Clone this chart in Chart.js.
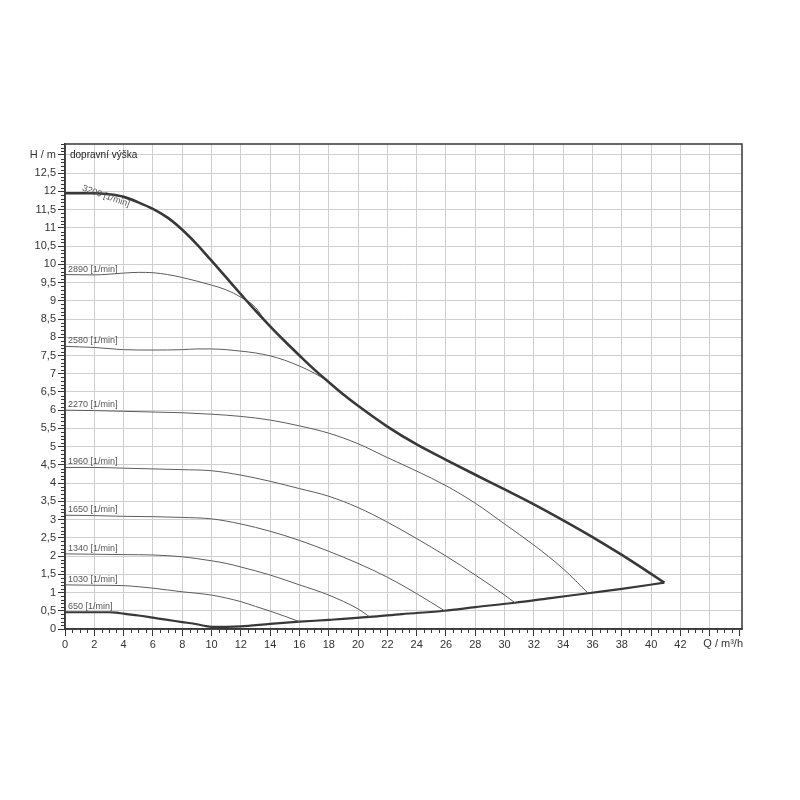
<!DOCTYPE html>
<html>
<head>
<meta charset="utf-8">
<title>Q-H křivky</title>
<script src="https://cdn.jsdelivr.net/npm/chart.js@4/dist/chart.umd.min.js"></script>
<style>
  html, body { margin: 0; padding: 0; background: #fff; }
  #wrap { width: 800px; height: 800px; }
</style>
</head>
<body>
<div id="wrap"><canvas id="qh" width="800" height="800"></canvas></div>
<script>
// Křivky Q-H čerpadla pro jednotlivé otáčky.
const q3200 = [0, 2, 3, 4, 5, 6, 7, 8, 9, 10, 11, 12, 13, 14, 15, 16, 17, 18, 19, 20, 22, 24, 26, 28, 30, 32, 34, 36, 38, 40, 40.9];
const h3200 = [11.95, 11.95, 11.92, 11.85, 11.7, 11.52, 11.28, 10.95, 10.55, 10.1, 9.64, 9.18, 8.73, 8.3, 7.89, 7.5, 7.12, 6.77, 6.43, 6.12, 5.55, 5.06, 4.64, 4.23, 3.83, 3.42, 2.98, 2.52, 2.03, 1.51, 1.27];

const q2890 = [0, 2, 3, 4, 5, 6, 7, 8, 9, 10, 11, 12, 13, 13.6];
const h2890 = [9.72, 9.71, 9.73, 9.76, 9.78, 9.77, 9.72, 9.64, 9.54, 9.43, 9.3, 9.1, 8.82, 8.48];

const q2580 = [0, 2, 3, 4, 6, 8, 9, 10, 11, 12, 13, 14, 15, 16, 17, 18];
const h2580 = [7.75, 7.72, 7.69, 7.66, 7.65, 7.66, 7.68, 7.68, 7.66, 7.62, 7.57, 7.49, 7.37, 7.21, 7.02, 6.78];

const q2270 = [0, 2, 4, 6, 8, 10, 12, 14, 16, 18, 20, 22, 24, 26, 28, 30, 32, 34, 35.7];
const h2270 = [6.0, 5.99, 5.97, 5.95, 5.93, 5.89, 5.83, 5.73, 5.57, 5.37, 5.08, 4.7, 4.33, 3.93, 3.45, 2.88, 2.3, 1.65, 0.98];

const q1960 = [0, 2, 4, 6, 8, 10, 12, 14, 16, 18, 20, 22, 24, 26, 28, 30, 30.7];
const h1960 = [4.43, 4.43, 4.41, 4.39, 4.37, 4.34, 4.22, 4.05, 3.85, 3.64, 3.33, 2.93, 2.48, 2.0, 1.48, 0.93, 0.72];

const q1650 = [0, 2, 4, 6, 8, 10, 12, 14, 16, 18, 20, 22, 24, 25.9];
const h1650 = [3.12, 3.11, 3.09, 3.08, 3.06, 3.02, 2.88, 2.68, 2.43, 2.13, 1.8, 1.42, 0.97, 0.5];

const q1340 = [0, 2, 4, 6, 8, 9, 10, 11, 12, 14, 16, 18, 20, 20.8];
const h1340 = [2.06, 2.05, 2.04, 2.03, 1.98, 1.93, 1.87, 1.8, 1.7, 1.48, 1.21, 0.93, 0.55, 0.33];

const q1030 = [0, 2, 4, 5, 6, 7, 8, 9, 10, 11, 12, 13, 14, 15, 16];
const h1030 = [1.21, 1.2, 1.19, 1.16, 1.12, 1.07, 1.02, 0.98, 0.93, 0.85, 0.75, 0.62, 0.49, 0.35, 0.2];

// 650 1/min a spodní hranice pracovního pole až k bodu 41 m³/h
const q650 = [0, 2, 3, 3.5, 4, 5, 6, 7, 8, 9, 9.5, 10, 11, 12, 14, 16, 18, 20.8, 23, 25.9, 28, 30.7, 33, 35.7, 38, 40.9];
const h650 = [0.46, 0.46, 0.46, 0.45, 0.42, 0.37, 0.31, 0.25, 0.19, 0.13, 0.09, 0.06, 0.06, 0.07, 0.14, 0.2, 0.25, 0.33, 0.41, 0.5, 0.6, 0.72, 0.84, 0.98, 1.1, 1.27];

const otacky = ["3200", "2890", "2580", "2270", "1960", "1650", "1340", "1030", "650"];
const jednotka = "[1/min]";
const popisY = "dopravní výška";
const osaY = "H / m";
const osaX = "Q / m³/h";

(function () {
  "use strict";

  const canvas = document.getElementById("qh");
  if (!canvas || typeof Chart === "undefined") return;

  Chart.defaults.font.family = "'Liberation Sans', Arial, sans-serif";
  Chart.defaults.font.size = 11;
  Chart.defaults.color = "#333";

  const TMAVA = "#383838";
  const SEDA = "#5c5c5c";
  const MRIZKA = "#cfcfcf";

  function body(qs, hs) {
    return qs.map((q, i) => ({ x: q, y: hs[i] }));
  }

  function krivka(label, qs, hs, barva, sirka) {
    return {
      label: label,
      data: body(qs, hs),
      borderColor: barva,
      borderWidth: sirka,
      pointRadius: 0,
      showLine: true,
      fill: false,
      tension: 0.3,
      cubicInterpolationMode: "monotone",
    };
  }

  const krivky = [
    [q3200, h3200], [q2890, h2890], [q2580, h2580], [q2270, h2270],
    [q1960, h1960], [q1650, h1650], [q1340, h1340], [q1030, h1030], [q650, h650],
  ];

  const datasets = krivky.map(([qs, hs], i) => {
    const hlavni = i === 0 || i === krivky.length - 1;
    return krivka(otacky[i] + " " + jednotka, qs, hs, hlavni ? TMAVA : SEDA, i === 0 ? 2.6 : hlavni ? 2.2 : 1);
  });

  const carka = (v) => String(Math.round(v * 10) / 10).replace(".", ",");

  // vedlejší značky na osách, rámeček, popisky křivek a os
  const dokresleni = {
    id: "dokresleni",
    afterDraw(chart) {
      const { ctx, chartArea: a, scales } = chart;
      const sx = scales.x, sy = scales.y;
      ctx.save();

      ctx.strokeStyle = TMAVA;
      ctx.lineWidth = 1;
      ctx.beginPath();
      for (let v = 0; v <= sx.max + 1e-9; v += 0.5) {
        if (Math.abs(v / 2 - Math.round(v / 2)) < 1e-6) continue;
        const px = Math.round(sx.getPixelForValue(v)) + 0.5;
        ctx.moveTo(px, a.bottom);
        ctx.lineTo(px, a.bottom + 4);
      }
      for (let k = 0; k <= Math.floor(sy.max * 10); k++) {
        if (k % 5 === 0) continue;
        const py = Math.round(sy.getPixelForValue(k / 10)) + 0.5;
        ctx.moveTo(a.left, py);
        ctx.lineTo(a.left - 4, py);
      }
      ctx.stroke();

      ctx.lineWidth = 1.5;
      ctx.strokeRect(a.left, a.top, a.right - a.left, a.bottom - a.top);

      // popisky otáček u začátku křivek
      ctx.fillStyle = "#555";
      ctx.font = "9px 'Liberation Sans', Arial, sans-serif";
      ctx.textBaseline = "bottom";
      ctx.textAlign = "left";
      krivky.forEach(([qs, hs], i) => {
        const text = otacky[i] + " " + jednotka;
        const px = sx.getPixelForValue(qs[0] + 0.2);
        const py = sy.getPixelForValue(hs[0]);
        if (i === 0) {
          ctx.save();
          ctx.translate(sx.getPixelForValue(1.1), py - 1);
          ctx.rotate(0.34);
          ctx.fillText(text, 0, 0);
          ctx.restore();
        } else {
          ctx.fillText(text, px, py - 1);
        }
      });

      ctx.fillStyle = "#222";
      ctx.font = "10px 'Liberation Sans', Arial, sans-serif";
      ctx.textBaseline = "middle";
      ctx.fillText(popisY, a.left + 5, sy.getPixelForValue(13));

      ctx.fillStyle = "#333";
      ctx.font = "11px 'Liberation Sans', Arial, sans-serif";
      ctx.textAlign = "right";
      ctx.textBaseline = "top";
      ctx.fillText(osaX, a.right + 1, a.bottom + 9);

      ctx.restore();
    },
  };

  new Chart(canvas, {
    type: "scatter",
    data: { datasets: datasets },
    options: {
      responsive: false,
      animation: false,
      layout: { padding: { left: 0, right: 58, top: 144, bottom: 0 } },
      plugins: {
        legend: { display: false },
        tooltip: { enabled: false },
      },
      scales: {
        x: {
          type: "linear",
          min: 0,
          max: 46.2,
          afterFit: (s) => { s.height = 171; },
          border: { display: true, color: TMAVA, width: 1.5 },
          grid: {
            color: (c) => (c.tick && c.tick.value > 44 ? "rgba(0,0,0,0)" : MRIZKA),
            tickColor: TMAVA,
            tickLength: 7,
          },
          ticks: {
            stepSize: 2,
            includeBounds: false,
            maxRotation: 0,
            autoSkip: false,
            padding: 2,
            color: "#333",
            callback: (v) => (v > 42 ? "" : String(v)),
          },
        },
        y: {
          type: "linear",
          min: 0,
          max: 13.3,
          afterFit: (s) => { s.width = 65; },
          border: { display: true, color: TMAVA, width: 1.5 },
          grid: { color: MRIZKA, tickColor: TMAVA, tickLength: 7 },
          ticks: {
            stepSize: 0.5,
            includeBounds: false,
            autoSkip: false,
            padding: 2,
            color: "#333",
            callback: (v) => (Math.abs(v - 13) < 1e-6 ? osaY : carka(v)),
          },
        },
      },
    },
    plugins: [dokresleni],
  });
})();
</script>
</body>
</html>
